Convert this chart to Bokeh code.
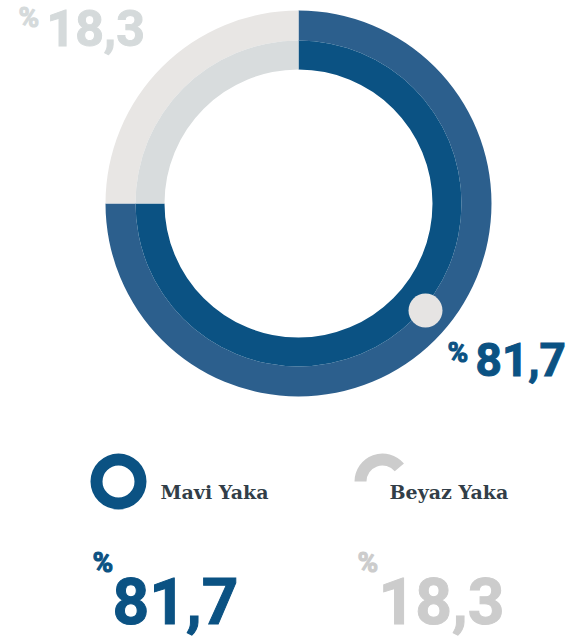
import math
from bokeh.plotting import figure
from bokeh.models import Range1d, ColumnDataSource
from bokeh.core.properties import value
from bokeh.embed import file_html
from bokeh.resources import INLINE

# ---- data ----
categories = ["Mavi Yaka", "Beyaz Yaka"]
values = [81.7, 18.3]
value_labels = ["81,7", "18,3"]

# ---- styling ----
BLUE_OUT = "#2c5f8d"
BLUE_IN = "#0b5283"
GREY_OUT = "#e8e6e4"
GREY_IN = "#d8dcdd"
BLUE_TXT = "#0b5283"
GREY_TOP = "#d5dadb"
GREY_BOT = "#cccccc"
LEG_TXT = "#323e48"

W, H = 568, 640
p = figure(width=W, height=H, x_range=Range1d(0, W), y_range=Range1d(0, H),
           output_backend="svg", toolbar_location=None, min_border=0)
p.axis.visible = False
p.grid.visible = False
p.outline_line_color = None
p.background_fill_color = "white"
p.border_fill_color = "white"

def Y(py):
    return H - py

def base(py, size):
    # compensate renderer baseline offset
    return Y(py) + 0.39 * size

cx, cy = 298, Y(203)
r_in, r_mid, r_out = 134, 163, 193

# ring segments (as drawn in the original graphic)
seg = ColumnDataSource(dict(
    cat=categories,
    val=values,
    start=[math.radians(180), math.radians(90)],
    end=[math.radians(90), math.radians(180)],
    outer_col=[BLUE_OUT, GREY_OUT],
    inner_col=[BLUE_IN, GREY_IN],
))
p.annular_wedge(x=cx, y=cy, inner_radius=r_mid, outer_radius=r_out,
                start_angle="start", end_angle="end", color="outer_col",
                line_color=None, source=seg)
p.annular_wedge(x=cx, y=cy, inner_radius=r_in, outer_radius=r_mid,
                start_angle="start", end_angle="end", color="inner_col",
                line_color=None, source=seg)

# decorative dot
p.circle(x=425, y=Y(310), radius=17, color="#e6e4e3", line_color=None)

NUMFONT = value("Roboto")
def num(x, py, txt, color, size):
    p.text(x=[x], y=[base(py, size)], text=[txt], text_color=color,
           text_outline_color=color, text_font_size=f"{size}px",
           text_font=NUMFONT, text_font_style="bold",
           text_baseline="alphabetic", text_align="left")

# ring labels
num(18, 28, "%", GREY_TOP, 28)
num(46, 47, value_labels[1], GREY_TOP, 50)
num(447, 363, "%", BLUE_TXT, 28)
num(475, 377, value_labels[0], BLUE_TXT, 46)

# legend icons
p.annular_wedge(x=118, y=Y(481), inner_radius=16, outer_radius=28,
                start_angle=0, end_angle=2 * math.pi, color=BLUE_IN, line_color=None)
p.annular_wedge(x=382, y=Y(481), inner_radius=16, outer_radius=28,
                start_angle=math.radians(40), end_angle=math.radians(180),
                color=GREY_BOT, line_color=None)

LS = 19
leg = dict(text_font=value("DejaVu Serif"), text_font_style="bold",
           text_baseline="alphabetic", text_align="left", text_font_size=f"{LS}px",
           text_color=LEG_TXT)
p.text(x=[160], y=[base(499, LS)], text=[categories[0]], **leg)
p.text(x=[389], y=[base(499, LS)], text=[categories[1]], **leg)

# big numbers
num(92, 573, "%", BLUE_TXT, 28)
num(112, 625, value_labels[0], BLUE_TXT, 64)
num(357, 573, "%", GREY_BOT, 28)
num(378, 625, value_labels[1], GREY_BOT, 64)

open("out.html", "w").write(file_html(p, INLINE))
